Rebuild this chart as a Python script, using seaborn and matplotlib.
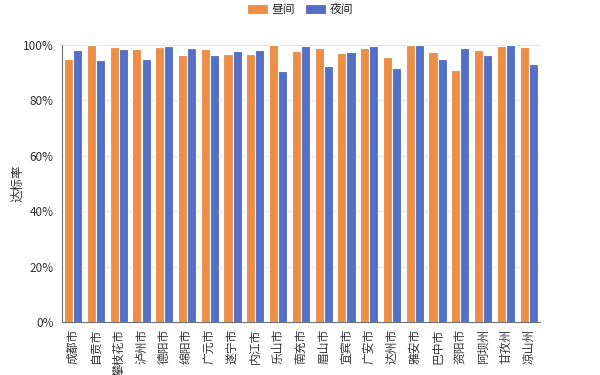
import numpy as np
import pandas as pd
import matplotlib
matplotlib.use("Agg")
from matplotlib import pyplot as plt
from matplotlib.ticker import FuncFormatter, FixedLocator
import seaborn as sns

cities = ["成都市", "自贡市", "攀枝花市", "泸州市", "德阳市", "绵阳市", "广元市",
          "遂宁市", "内江市", "乐山市", "南充市", "眉山市", "宜宾市", "广安市",
          "达州市", "雅安市", "巴中市", "资阳市", "阿坝州", "甘孜州", "凉山州"]
day_rate = [94.9, 99.9, 99.3, 98.7, 99.3, 96.3, 98.6, 96.8, 96.8, 99.9, 97.7,
            99.0, 97.2, 99.0, 95.6, 100.0, 97.6, 90.9, 98.2, 99.6, 99.3]
night_rate = [98.2, 94.6, 98.6, 95.1, 99.8, 99.0, 96.3, 97.7, 98.3, 90.6, 99.5,
              92.4, 97.4, 99.6, 91.6, 100.0, 94.9, 99.0, 96.3, 100.0, 93.2]
series_names = ["昼间", "夜间"]
y_ticks = [0, 20, 40, 60, 80, 100]

sns.set_style("white")
plt.rcParams["font.family"] = ["Noto Sans CJK SC", "DejaVu Sans"]

df = pd.DataFrame({
    "city": cities * 2,
    "rate": day_rate + night_rate,
    "period": [series_names[0]] * len(cities) + [series_names[1]] * len(cities),
})

fig = plt.figure(figsize=(6, 3.75), dpi=100)
ax = fig.add_axes([0.103, 0.141, 0.797, 0.739])

sns.barplot(data=df, x="city", y="rate", hue="period", ax=ax,
            palette=["#EE8E46", "#5470C6"], width=0.8,
            edgecolor="#FFFFFF", linewidth=0.8, saturation=1, legend=True)

ax.set_ylim(0, 100)
ax.set_xlim(-0.5, len(cities) - 0.5)
ax.set_yticks(y_ticks)
ax.yaxis.set_major_formatter(FuncFormatter(lambda v, p: f"{int(v)}%"))
ax.grid(axis="y", color="#E0E6F1", linewidth=0.8)
ax.set_axisbelow(True)

ax.set_xlabel("")
ax.set_ylabel("达标率", fontsize=9, color="#333333")
ax.yaxis.set_label_coords(-0.079, 0.5)

for s in ["top", "right"]:
    ax.spines[s].set_visible(False)
ax.spines["left"].set_color("#6E7079")
ax.spines["bottom"].set_color("#6E7079")

ax.tick_params(axis="y", length=4, color="#6E7079", labelsize=8.5, labelcolor="#333333", pad=2)
ax.tick_params(axis="x", which="major", length=0, labelsize=8.5, labelcolor="#333333", pad=5)
ax.xaxis.set_minor_locator(FixedLocator(np.arange(-0.5, len(cities), 1)))
ax.tick_params(axis="x", which="minor", length=4, color="#6E7079")
for lab in ax.get_xticklabels():
    lab.set_rotation(90)
    lab.set_ha("center")
    lab.set_va("top")

handles, labels = ax.get_legend_handles_labels()
ax.get_legend().remove()
fig.legend(handles, labels, loc="upper center", bbox_to_anchor=(0.5, 1.02), ncol=2,
           frameon=False, fontsize=8.5, handlelength=1.8, handleheight=0.9,
           handletextpad=0.3, columnspacing=0.8)

fig.savefig("out.png", dpi=100)
